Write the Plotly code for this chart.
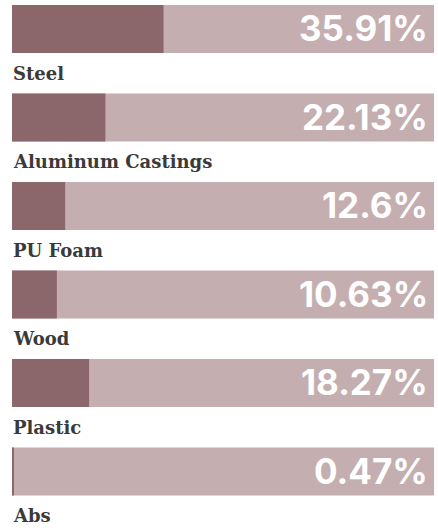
import plotly.graph_objects as go

categories = ["Steel", "Aluminum Castings", "PU Foam", "Wood", "Plastic", "Abs"]
values = [35.91, 22.13, 12.6, 10.63, 18.27, 0.47]
value_labels = ["35.91%", "22.13%", "12.6%", "10.63%", "18.27%", "0.47%"]
full = [100] * len(categories)

DARK = "#8b676c"
LIGHT = "#c4aeaf"

fig = go.Figure()
fig.add_trace(go.Bar(y=categories, x=full, orientation="h", marker=dict(color=LIGHT, line=dict(width=0)),
                     width=0.542, hoverinfo="skip", showlegend=False))
fig.add_trace(go.Bar(y=categories, x=values, orientation="h", marker=dict(color=DARK, line=dict(width=0)),
                     width=0.542, showlegend=False))

annotations = []
for c, lbl in zip(categories, value_labels):
    annotations.append(dict(x=100, y=c, xref="x", yref="y", text=lbl, showarrow=False,
                            xanchor="right", yanchor="middle", xshift=-4, yshift=1,
                            font=dict(family="Inter", size=35, color="white", weight=700)))
    annotations.append(dict(x=0, y=c, xref="x", yref="y", text=c, showarrow=False,
                            xanchor="left", yanchor="middle", yshift=-44, xshift=-1,
                            font=dict(family="DejaVu Serif", size=18, color="#3a3a3a", weight="bold")))

fig.update_layout(
    width=438, height=531,
    margin=dict(l=12, r=4, t=0, b=0),
    barmode="overlay",
    plot_bgcolor="white", paper_bgcolor="white",
    xaxis=dict(range=[0, 100], visible=False, fixedrange=True),
    yaxis=dict(type="category", categoryorder="array", categoryarray=categories,
               range=[5.672, -0.328], visible=False, fixedrange=True),
    annotations=annotations,
)

fig.write_html("out.html", config={"displayModeBar": False},
               post_script="document.body.style.margin='0';document.body.style.overflow='hidden';")
